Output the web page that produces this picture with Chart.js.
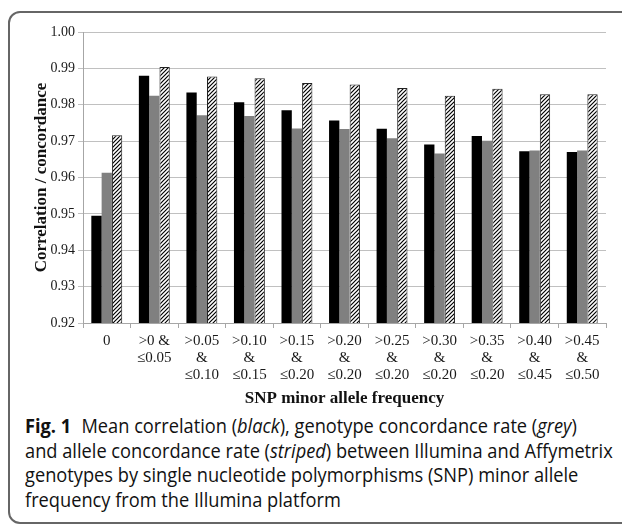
<!DOCTYPE html>
<html>
<head>
<meta charset="utf-8">
<script src="https://cdn.jsdelivr.net/npm/chart.js@4/dist/chart.umd.min.js"></script>
<style>
  html, body { margin: 0; padding: 0; background: #fff; }
  body { width: 622px; height: 525px; position: relative; overflow: hidden; }
  .frame {
    position: absolute; left: 8px; top: 11px; width: 650px; height: 513px;
    box-sizing: border-box; border: 2px solid #666; border-radius: 12px;
  }
  #wrap { position: absolute; left: 0; top: 0; width: 622px; height: 410px; }
  .caption {
    position: absolute; left: 25px; top: 414px;
    font-family: 'Open Sans', 'Noto Sans', sans-serif; font-size: 20px;
    line-height: 24.7px; color: #111;
  }
  .caption div { white-space: nowrap; transform-origin: 0 0; }
  .caption b { font-weight: 700; margin-right: 6px; }
</style>
</head>
<body>
<div class="frame"></div>
<div id="wrap"><canvas id="chart" width="622" height="410"></canvas></div>
<div class="caption" id="caption">
  <div><b>Fig. 1</b> Mean correlation (<i>black</i>), genotype concordance rate (<i>grey</i>)</div>
  <div>and allele concordance rate (<i>striped</i>) between Illumina and Affymetrix</div>
  <div>genotypes by single nucleotide polymorphisms (SNP) minor allele</div>
  <div>frequency from the Illumina platform</div>
</div>
<script>
// data
var categories = [
  ['0'], ['>0 &', '\u22640.05'], ['>0.05', '&', '\u22640.10'], ['>0.10', '&', '\u22640.15'],
  ['>0.15', '&', '\u22640.20'], ['>0.20', '&', '\u22640.20'], ['>0.25', '&', '\u22640.20'],
  ['>0.30', '&', '\u22640.20'], ['>0.35', '&', '\u22640.20'], ['>0.40', '&', '\u22640.45'],
  ['>0.45', '&', '\u22640.50']
];
var correlation = [0.9495, 0.9880, 0.9834, 0.9807, 0.9785, 0.9757, 0.9734, 0.9691, 0.9714, 0.9672, 0.9670];
var genotypeConcordance = [0.9613, 0.9825, 0.9771, 0.9769, 0.9735, 0.9733, 0.9708, 0.9666, 0.9701, 0.9674, 0.9674];
var alleleConcordance = [0.9716, 0.9904, 0.9878, 0.9873, 0.9860, 0.9856, 0.9846, 0.9825, 0.9844, 0.9829, 0.9829];
var yTicks = { min: 0.92, max: 1.00, step: 0.01 };

// diagonal hatch for the striped bars
function hatch() {
  var c = document.createElement('canvas');
  c.width = 4; c.height = 4;
  var g = c.getContext('2d');
  g.fillStyle = '#fff';
  g.fillRect(0, 0, 4, 4);
  g.strokeStyle = '#000';
  g.lineWidth = 1.2;
  g.beginPath();
  g.moveTo(-1, 1); g.lineTo(1, -1);
  g.moveTo(0, 4); g.lineTo(4, 0);
  g.moveTo(3, 5); g.lineTo(5, 3);
  g.stroke();
  return g.createPattern(c, 'repeat');
}

var serif = "'Liberation Serif', 'Times New Roman', serif";

new Chart(document.getElementById('chart'), {
  type: 'bar',
  data: {
    labels: categories,
    datasets: [
      { label: 'Correlation', data: correlation, backgroundColor: '#000' },
      { label: 'Genotype concordance', data: genotypeConcordance, backgroundColor: '#808080' },
      { label: 'Allele concordance', data: alleleConcordance, backgroundColor: hatch(), borderColor: '#222', borderWidth: 1 }
    ]
  },
  options: {
    responsive: false,
    animation: false,
    layout: { padding: { left: 31, top: 32, right: 16, bottom: 0 } },
    datasets: { bar: { categoryPercentage: 0.65, barPercentage: 1.0 } },
    plugins: { legend: { display: false }, tooltip: { enabled: false } },
    scales: {
      x: {
        grid: { offset: true, drawOnChartArea: false, tickLength: 5, color: '#a6a6a6' },
        border: { color: '#a6a6a6' },
        ticks: { color: '#1a1a1a', font: { family: serif, size: 15, lineHeight: 1.15 }, padding: 4, maxRotation: 0, autoSkip: false },
        title: { display: true, text: 'SNP minor allele frequency', color: '#111', font: { family: serif, size: 17, weight: 'bold' }, padding: { top: 0, bottom: 1 } },
        afterFit: function (s) { s.height = 87 }
      },
      y: {
        min: yTicks.min,
        max: yTicks.max,
        grid: { color: '#c0c0c0', tickLength: 5 },
        border: { color: '#a6a6a6' },
        ticks: {
          stepSize: yTicks.step,
          color: '#1a1a1a',
          font: { family: serif, size: 14 },
          padding: 3,
          callback: function (v) { return v.toFixed(2) }
        },
        title: { display: true, text: 'Correlation / concordance', color: '#111', font: { family: serif, size: 17, weight: 'bold' }, padding: 0 },
        afterFit: function (s) { s.width = 52 }
      }
    }
  }
});

// squeeze the caption lines to the width of the original typeface
var lines = document.querySelectorAll('#caption div');
var k = 588 / lines[1].scrollWidth;
for (var i = 0; i < lines.length; i++) {
  lines[i].style.transform = 'scaleX(' + k + ')';
}
</script>
</body>
</html>
